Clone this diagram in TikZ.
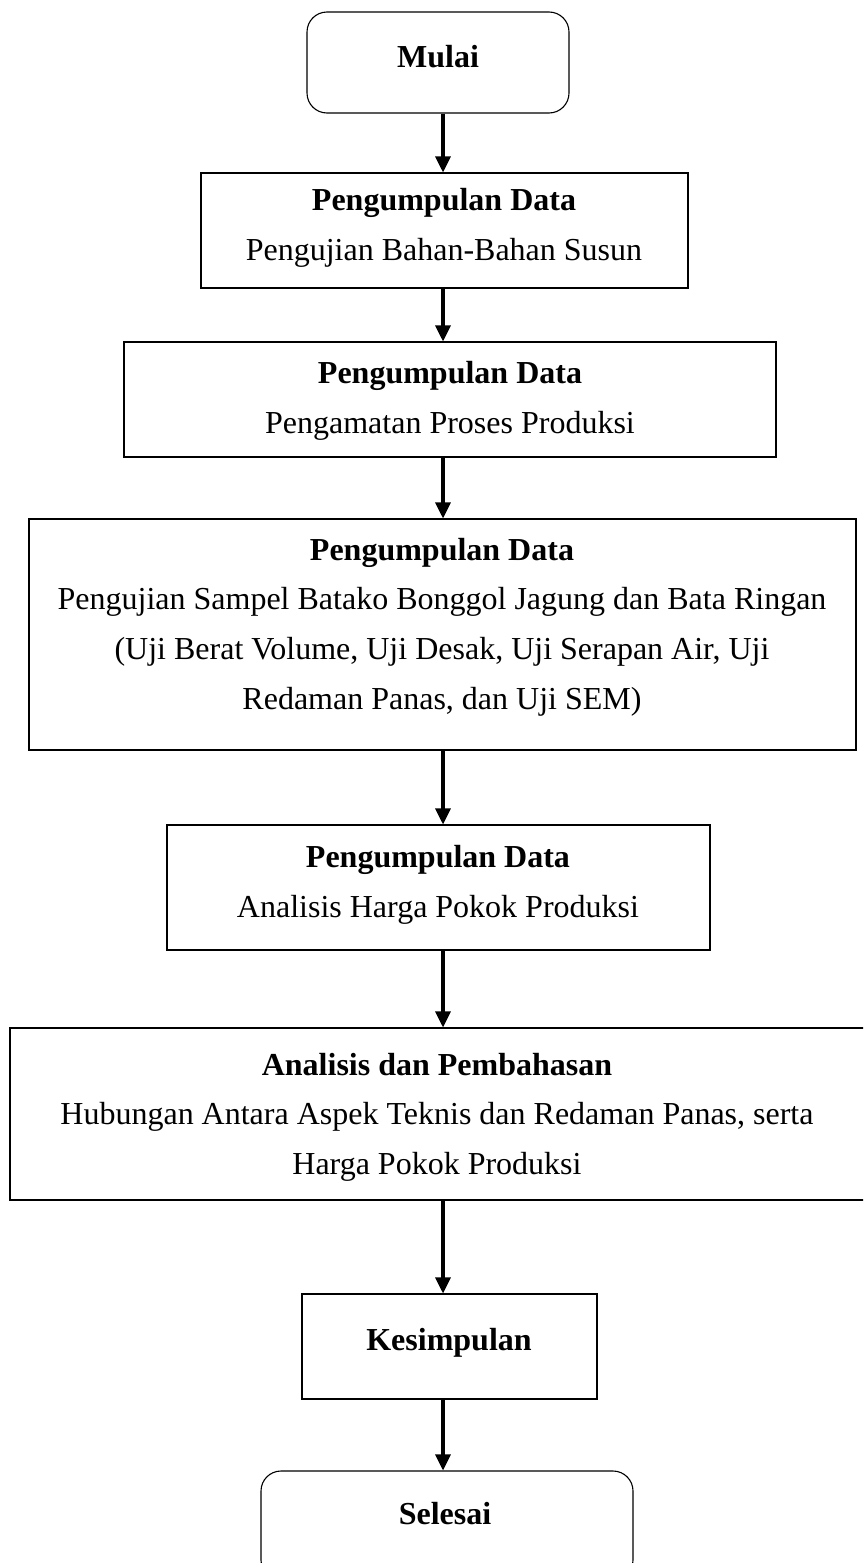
\documentclass[tikz,border=0pt]{standalone}
\usepackage{fontspec}
\setmainfont{Liberation Serif}
\usetikzlibrary{arrows.meta,fit}
\begin{document}
\begin{tikzpicture}[x=0.5pt,y=-0.5pt,
  box/.style={draw, line width=0.55pt, inner sep=0pt},
  roundbox/.style={box, rounded corners=10pt},
  txt/.style={align=center, inner sep=0pt, font=\fontsize{16pt}{24.8pt}\selectfont},
  arr/.style={line width=1.6pt, -{Triangle[width=7.5pt,length=8pt]}}]
\clip (0,0) rectangle (863,1563);
\fill[white] (0,0) rectangle (863,1563);
\coordinate (ax) at (443,0);
% boxes
\node[roundbox, fit={(307,12) (569,113)}] (b1) {};
\node[box, fit={(201,173) (688,288)}] (b2) {};
\node[box, fit={(124,342) (776,457)}] (b3) {};
\node[box, fit={(29,519) (856,750)}] (b4) {};
\node[box, fit={(167,825) (710,950)}] (b5) {};
\node[box, fit={(10,1028) (880,1200)}] (b6) {};
\node[box, fit={(302,1294) (597,1399)}] (b7) {};
\node[roundbox, fit={(261,1471) (633,1580)}] (b8) {};
% texts
\node[txt] (t1) at (438,57) {\textbf{Mulai}};
\node[txt] (t2) at (444,228) {\textbf{Pengumpulan Data}\\Pengujian Bahan-Bahan Susun};
\node[txt] (t3) at (450,401) {\textbf{Pengumpulan Data}\\Pengamatan Proses Produksi};
\node[txt] (t4) at (442,627) {\textbf{Pengumpulan Data}\\Pengujian Sampel Batako Bonggol Jagung dan Bata Ringan\\(Uji Berat Volume, Uji Desak, Uji Serapan Air, Uji\\Redaman Panas, dan Uji SEM)};
\node[txt] (t5) at (438,885) {\textbf{Pengumpulan Data}\\Analisis Harga Pokok Produksi};
\node[txt] (t6) at (437,1117) {\textbf{Analisis dan Pembahasan}\\Hubungan Antara Aspek Teknis dan Redaman Panas, serta\\Harga Pokok Produksi};
\node[txt] (t7) at (449,1343) {\textbf{Kesimpulan}};
\node[txt] (t8) at (445,1514) {\textbf{Selesai}};
% arrows
\draw[arr] (b1.south -| ax) -- (b2.north -| ax);
\draw[arr] (b2.south -| ax) -- (b3.north -| ax);
\draw[arr] (b3.south -| ax) -- (b4.north -| ax);
\draw[arr] (b4.south -| ax) -- (b5.north -| ax);
\draw[arr] (b5.south -| ax) -- (b6.north -| ax);
\draw[arr] (b6.south -| ax) -- (b7.north -| ax);
\draw[arr] (b7.south -| ax) -- (b8.north -| ax);
\end{tikzpicture}
\end{document}
